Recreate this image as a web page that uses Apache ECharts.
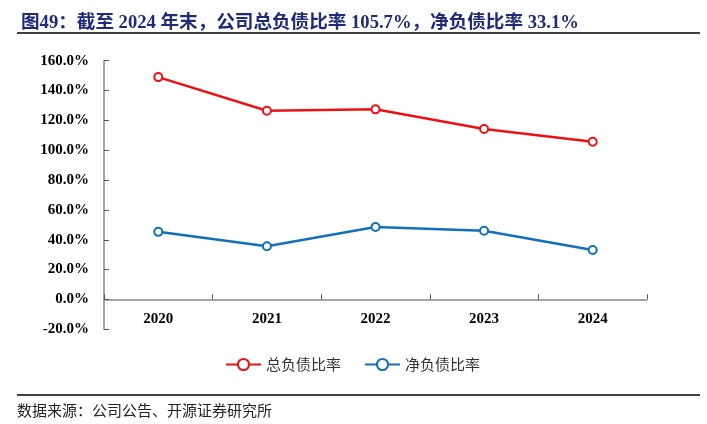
<!DOCTYPE html>
<html>
<head>
<meta charset="utf-8">
<script src="https://cdn.jsdelivr.net/npm/echarts@6/dist/echarts.min.js"></script>
<style>
html,body{margin:0;padding:0;background:#fff;}
#chart{width:707px;height:424px;}
</style>
</head>
<body>
<div id="chart"></div>
<script>
var categories = ['2020', '2021', '2022', '2023', '2024'];
var totalDebtRatio = [149.0, 126.5, 127.4, 114.2, 105.7];
var netDebtRatio = [45.3, 35.7, 48.6, 46.0, 33.1];
var seriesNames = ['总负债比率', '净负债比率'];
var titleText = '图49：截至 2024 年末，公司总负债比率 105.7%，净负债比率 33.1%';
var sourceText = '数据来源：公司公告、开源证券研究所';

var chart = echarts.init(document.getElementById('chart'), null, {renderer: 'canvas'});
var serif = '"Liberation Serif", "Times New Roman", "Noto Sans CJK SC", serif';
var option = {
  backgroundColor: '#fff',
  animation: false,
  title: {
    text: titleText,
    left: 16,
    top: 9,
    textStyle: {
      fontFamily: serif,
      fontSize: 18.6,
      fontWeight: 'bold',
      color: '#1f2a78'
    }
  },
  graphic: [
    {type: 'line', shape: {x1: 17, y1: 33, x2: 700, y2: 33}, style: {stroke: '#000', lineWidth: 1.5}},
    {type: 'line', shape: {x1: 17, y1: 395, x2: 700, y2: 395}, style: {stroke: '#000', lineWidth: 1.5}},
    {type: 'text', left: 17, top: 403, style: {text: sourceText, fontSize: 15, fill: '#222', fontFamily: '"Noto Sans CJK SC", sans-serif'}}
  ],
  legend: {
    data: seriesNames,
    left: 220,
    top: 352,
    itemWidth: 35,
    itemHeight: 14,
    itemGap: 23,
    textStyle: {fontSize: 15, color: '#333', fontFamily: '"Noto Sans CJK SC", sans-serif'}
  },
  grid: {left: 104, right: 60, top: 60.7, bottom: 94.7, containLabel: false},
  xAxis: {
    type: 'category',
    data: categories,
    boundaryGap: true,
    offset: -30,
    axisLine: {show: true, onZero: false, lineStyle: {color: '#888', width: 1.5}},
    axisTick: {show: true, inside: true, length: 5, lineStyle: {color: '#555'}},
    axisLabel: {fontFamily: serif, fontSize: 15, fontWeight: 'bold', color: '#000', margin: 12},
    splitLine: {show: false}
  },
  yAxis: {
    type: 'value',
    min: -20,
    max: 160,
    interval: 20,
    axisLine: {show: true, lineStyle: {color: '#888', width: 1.5}},
    axisTick: {show: true, inside: true, length: 5, lineStyle: {color: '#555'}},
    axisLabel: {
      fontFamily: serif, fontSize: 15, fontWeight: 'bold', color: '#000', margin: 15,
      formatter: function (v) { return v.toFixed(1) + '%'; }
    },
    splitLine: {show: false}
  },
  series: [
    {
      name: seriesNames[0],
      type: 'line',
      data: totalDebtRatio,
      symbol: 'emptyCircle',
      symbolSize: 8,
      lineStyle: {color: '#ee1111', width: 2.5},
      itemStyle: {color: '#ee1111', borderColor: '#ee1111', borderWidth: 2.5}
    },
    {
      name: seriesNames[1],
      type: 'line',
      data: netDebtRatio,
      symbol: 'emptyCircle',
      symbolSize: 8,
      lineStyle: {color: '#1170b8', width: 2.5},
      itemStyle: {color: '#1170b8', borderColor: '#1170b8', borderWidth: 2.5}
    }
  ]
};
chart.setOption(option);
</script>
</body>
</html>
